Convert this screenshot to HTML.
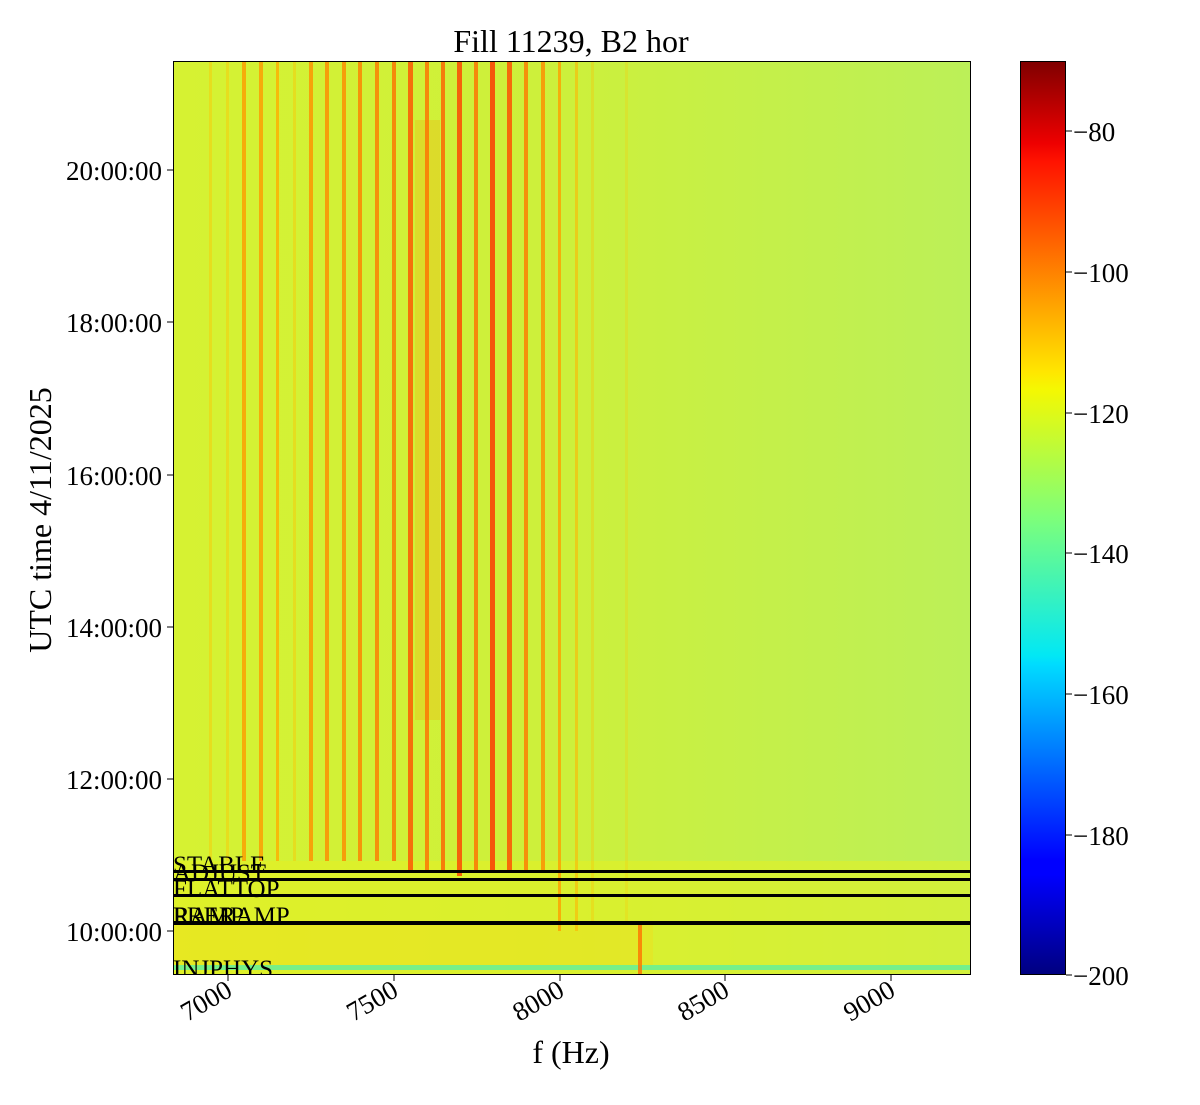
<!DOCTYPE html>
<html><head><meta charset="utf-8"><style>
html,body{margin:0;padding:0;background:#fff;}
svg text{font-family:"Liberation Serif",serif;fill:#000;}
</style></head><body>
<svg width="1200" height="1100" xmlns="http://www.w3.org/2000/svg">
<defs>
<linearGradient id="bg" x1="0" x2="1" y1="0" y2="0">
<stop offset="0" stop-color="#d6f232"/><stop offset="0.5" stop-color="#ccf03c"/><stop offset="1" stop-color="#bcf058"/>
</linearGradient>
<linearGradient id="jet" x1="0" x2="0" y1="1" y2="0">
<stop offset="0" stop-color="#00007f"/><stop offset="0.11" stop-color="#0000ff"/><stop offset="0.125" stop-color="#0000ff"/>
<stop offset="0.34" stop-color="#00dcff"/><stop offset="0.35" stop-color="#02e8f4"/><stop offset="0.5" stop-color="#7dff7a"/>
<stop offset="0.64" stop-color="#f4f802"/><stop offset="0.66" stop-color="#ffe600"/><stop offset="0.89" stop-color="#ff1300"/>
<stop offset="0.91" stop-color="#ee0000"/><stop offset="1" stop-color="#7f0000"/>
</linearGradient>
<clipPath id="cp"><rect x="173" y="61" width="798" height="914"/></clipPath>
</defs>
<text x="571" y="52" font-size="32" text-anchor="middle">Fill 11239, B2 hor</text>
<g clip-path="url(#cp)">
<rect x="173" y="61" width="798" height="914" fill="url(#bg)"/>
<rect x="173" y="861" width="798" height="114" fill="#e8f020" opacity="0.5"/>
<rect x="173" y="925" width="480" height="42" fill="#ffd010" opacity="0.25"/>
<rect x="173" y="965" width="798" height="5" fill="#5cf0a0" opacity="0.8"/>
<rect x="415" y="120" width="25" height="600" fill="#ff9a00" opacity="0.25"/>
<g opacity="0.8">
<rect x="209" y="61" width="3" height="800" fill="#ffc000" opacity="0.5"/>
<rect x="226" y="61" width="3" height="800" fill="#ffc000" opacity="0.5"/>
<rect x="242" y="61" width="4" height="800" fill="#ff9a00"/>
<rect x="259" y="61" width="4" height="800" fill="#ff9a00"/>
<rect x="276" y="61" width="3" height="800" fill="#ffae00"/>
<rect x="293" y="61" width="3" height="800" fill="#ffc000" opacity="0.5"/>
<rect x="309" y="61" width="4" height="800" fill="#ff9000"/>
<rect x="325" y="61" width="4" height="800" fill="#ff8a00"/>
<rect x="342" y="61" width="4" height="800" fill="#ff8a00"/>
<rect x="358" y="61" width="4" height="800" fill="#ff8000"/>
<rect x="375" y="61" width="4" height="800" fill="#ff7a00"/>
<rect x="392" y="61" width="4" height="800" fill="#ff7000"/>
<rect x="408" y="61" width="5" height="810" fill="#ff5000"/>
<rect x="425" y="61" width="4" height="810" fill="#ff7000"/>
<rect x="441" y="61" width="4" height="810" fill="#ff6000"/>
<rect x="457" y="61" width="5" height="815" fill="#ff4000"/>
<rect x="474" y="61" width="4" height="810" fill="#ff7000"/>
<rect x="490" y="61" width="5" height="810" fill="#ff3000"/>
<rect x="507" y="61" width="5" height="810" fill="#ff4a00"/>
<rect x="524" y="61" width="4" height="810" fill="#ff7a00"/>
<rect x="541" y="61" width="4" height="810" fill="#ff8a00"/>
<rect x="558" y="61" width="3" height="870" fill="#ffa000"/>
<rect x="575" y="61" width="3" height="870" fill="#ffb000" opacity="0.7"/>
<rect x="591" y="61" width="3" height="860" fill="#ffc000" opacity="0.4"/>
<rect x="625" y="61" width="3" height="860" fill="#ffc000" opacity="0.3"/>
<rect x="638" y="925" width="4" height="50" fill="#ff7000"/>
</g>
<rect x="173" y="870" width="798" height="3" fill="#000"/>
<rect x="173" y="878" width="798" height="3" fill="#000"/>
<rect x="173" y="894" width="798" height="3" fill="#000"/>
<rect x="173" y="921" width="798" height="4" fill="#000"/>
<g font-size="25">
<text x="173" y="873">STABLE</text>
<text x="173" y="881">ADJUST</text>
<text x="173" y="897">FLATTOP</text>
<text x="173" y="924">PRERAMP</text>
<text x="173" y="924">RAMP</text>
<text x="173" y="977">INJPHYS</text>
</g>
</g>
<rect x="173.5" y="61.5" width="797" height="913" fill="none" stroke="#000" stroke-width="1"/>
<g stroke="#000" stroke-width="1">
<line x1="228" y1="975" x2="228" y2="981"/><line x1="394" y1="975" x2="394" y2="981"/>
<line x1="560" y1="975" x2="560" y2="981"/><line x1="725" y1="975" x2="725" y2="981"/>
<line x1="891" y1="975" x2="891" y2="981"/>
<line x1="167" y1="170" x2="173" y2="170"/><line x1="167" y1="322" x2="173" y2="322"/>
<line x1="167" y1="475" x2="173" y2="475"/><line x1="167" y1="627" x2="173" y2="627"/>
<line x1="167" y1="779" x2="173" y2="779"/><line x1="167" y1="931" x2="173" y2="931"/>
</g>
<g font-size="27" text-anchor="end">
<text transform="translate(234,995) rotate(-30)">7000</text>
<text transform="translate(400,995) rotate(-30)">7500</text>
<text transform="translate(566,995) rotate(-30)">8000</text>
<text transform="translate(731,995) rotate(-30)">8500</text>
<text transform="translate(897,995) rotate(-30)">9000</text>
<text x="162" y="180">20:00:00</text>
<text x="162" y="332">18:00:00</text>
<text x="162" y="485">16:00:00</text>
<text x="162" y="637">14:00:00</text>
<text x="162" y="789">12:00:00</text>
<text x="162" y="941">10:00:00</text>
</g>
<text x="571" y="1063" font-size="32" text-anchor="middle">f (Hz)</text>
<text transform="translate(51,520) rotate(-90)" font-size="32" text-anchor="middle">UTC time 4/11/2025</text>
<rect x="1020" y="61" width="46" height="914" fill="url(#jet)"/>
<rect x="1020.5" y="61.5" width="45" height="913" fill="none" stroke="#000"/>
<g stroke="#000"><line x1="1066" y1="131" x2="1072" y2="131"/><line x1="1066" y1="272" x2="1072" y2="272"/><line x1="1066" y1="413" x2="1072" y2="413"/><line x1="1066" y1="553" x2="1072" y2="553"/><line x1="1066" y1="694" x2="1072" y2="694"/><line x1="1066" y1="835" x2="1072" y2="835"/><line x1="1066" y1="975" x2="1072" y2="975"/></g>
<g font-size="27">
<text x="1073" y="141">−80</text><text x="1073" y="282">−100</text><text x="1073" y="423">−120</text>
<text x="1073" y="563">−140</text><text x="1073" y="704">−160</text><text x="1073" y="845">−180</text><text x="1073" y="985">−200</text>
</g>
</svg>
</body></html>
